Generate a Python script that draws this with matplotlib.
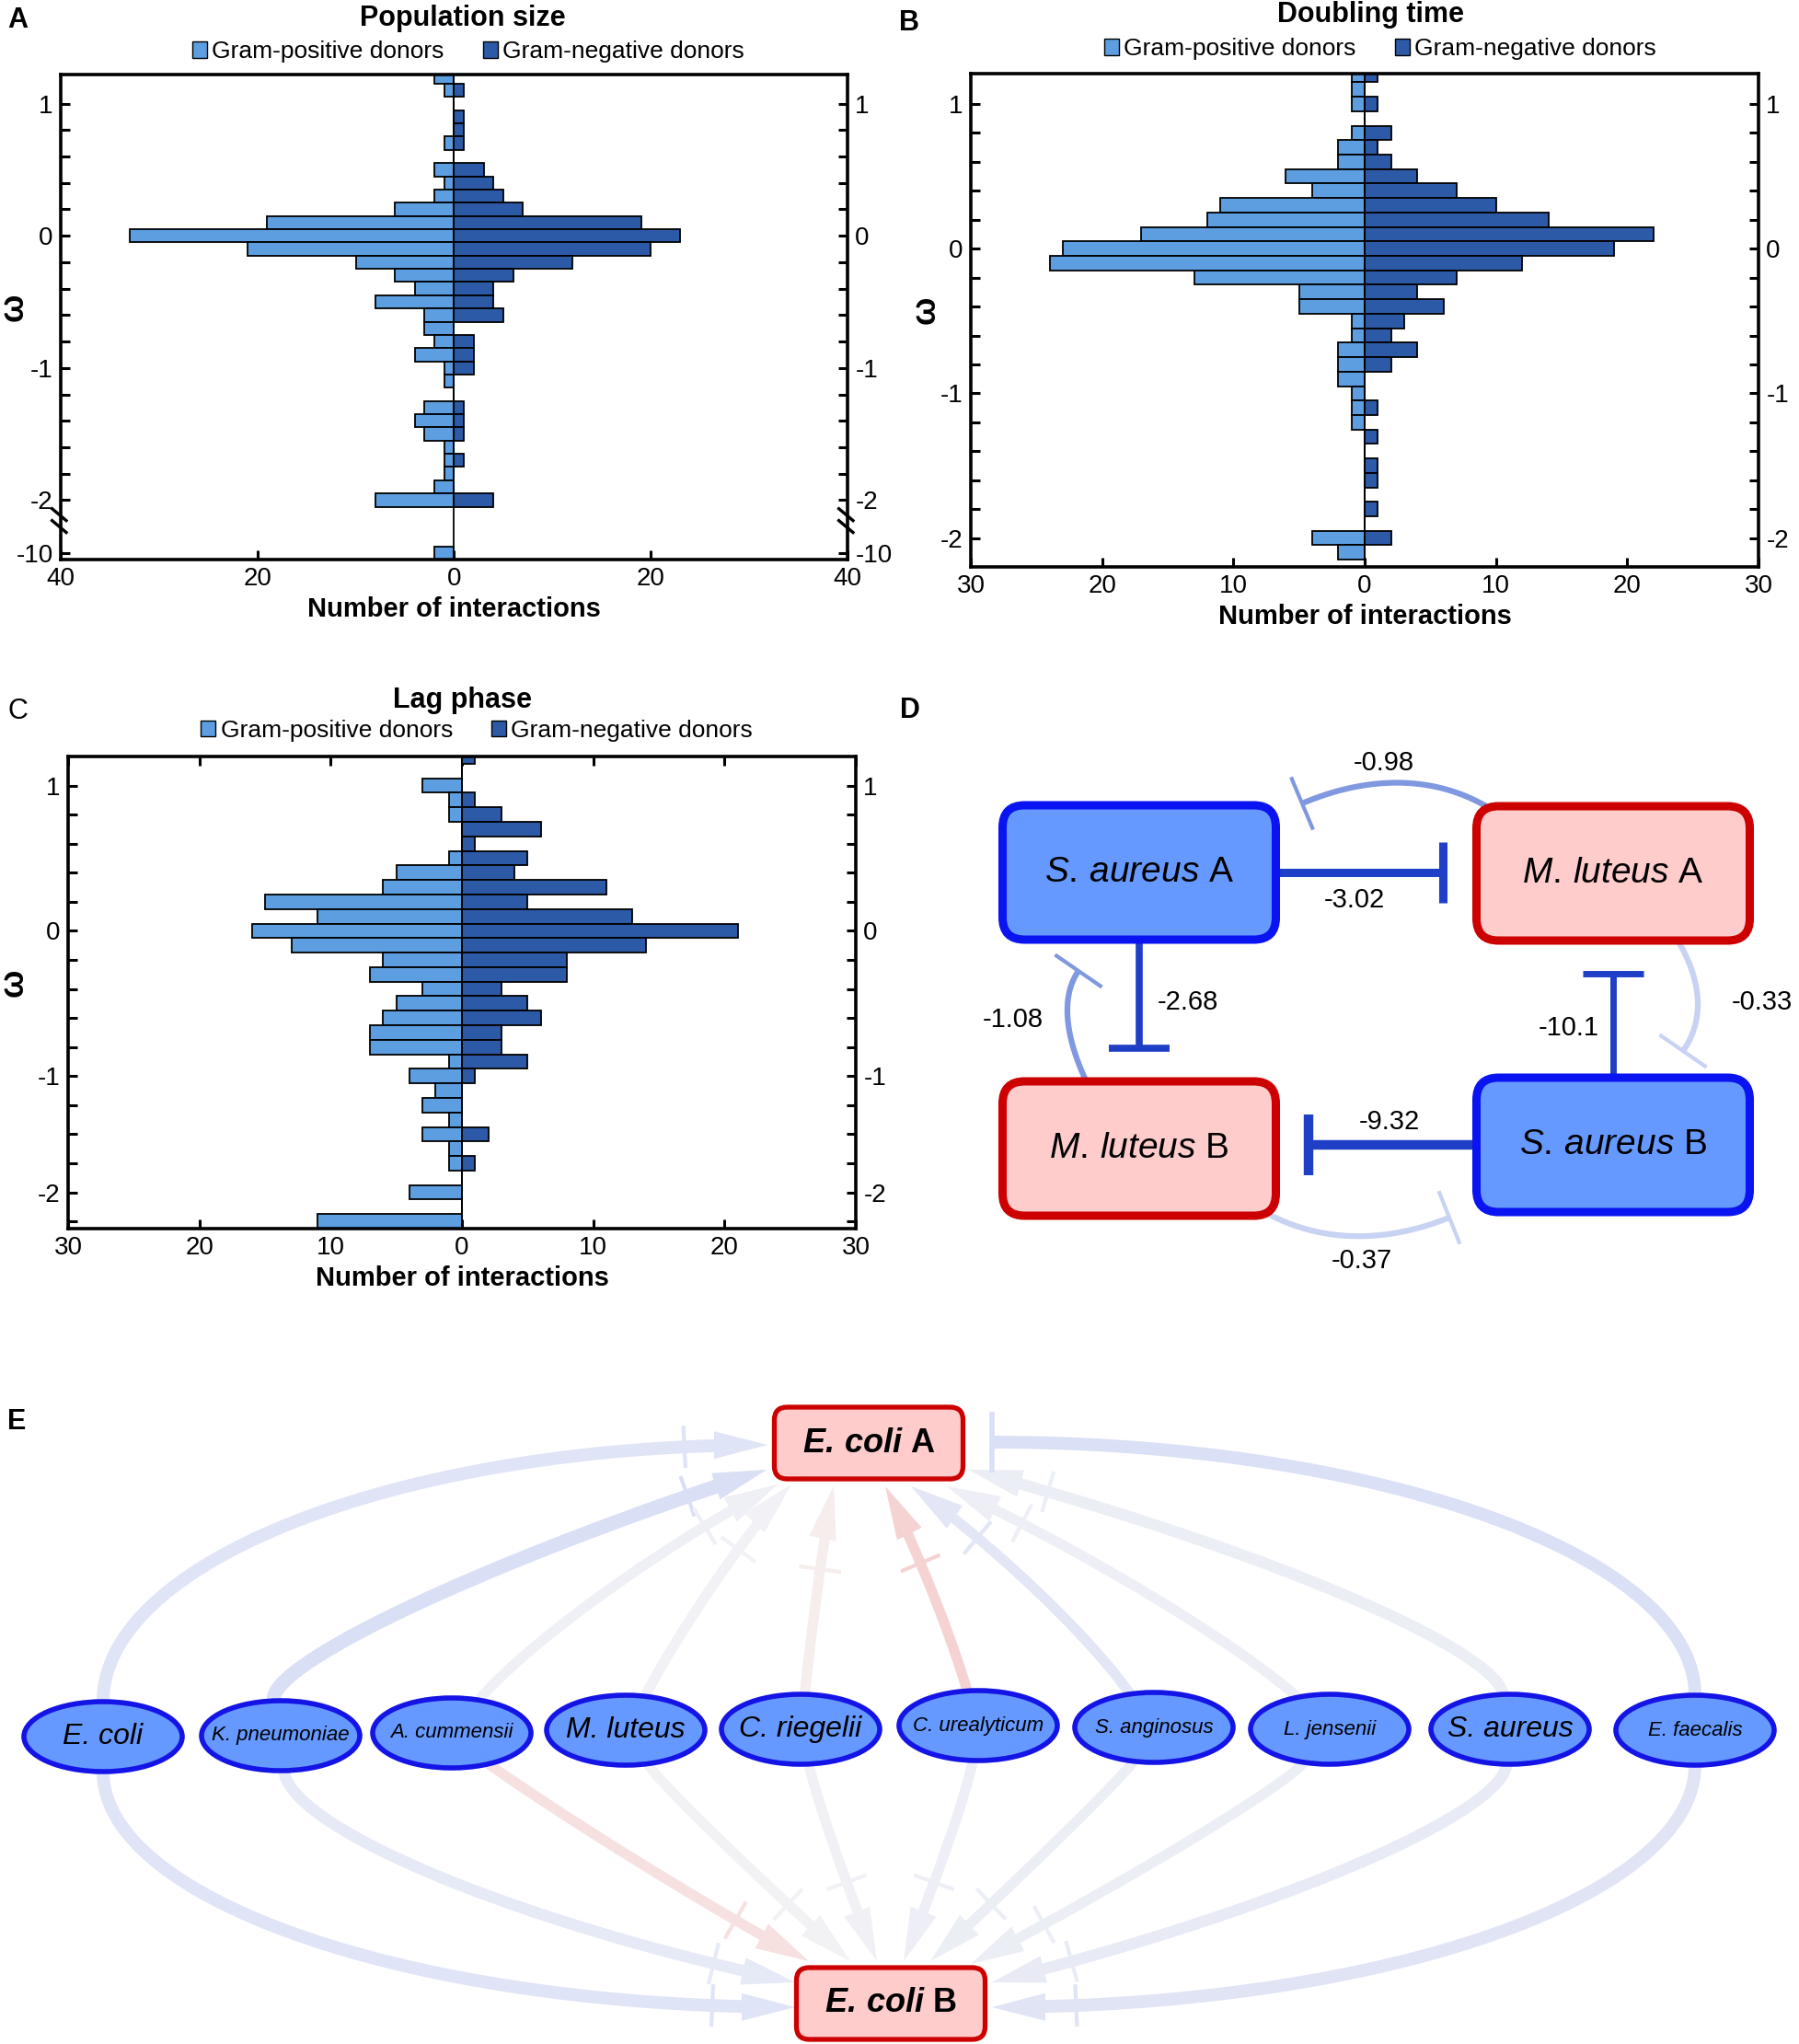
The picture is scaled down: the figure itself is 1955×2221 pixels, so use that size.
import numpy as np
import matplotlib
matplotlib.use("Agg")
import matplotlib.pyplot as plt
from matplotlib.patches import Patch, FancyBboxPatch, Ellipse, Polygon
from matplotlib.transforms import blended_transform_factory

plt.rcParams['font.family'] = ['Liberation Sans', 'DejaVu Sans']
plt.rcParams['mathtext.fontset'] = 'custom'
plt.rcParams['mathtext.rm'] = 'Liberation Sans'
plt.rcParams['mathtext.it'] = 'Liberation Sans:italic'
plt.rcParams['mathtext.bf'] = 'Liberation Sans:bold'
plt.rcParams['mathtext.bfit'] = 'Liberation Sans:italic:bold'

# ---------------- histogram data: omega bin centre, counts ----------------
pop_omega = [1.2, 1.1, 1.0, 0.9, 0.8, 0.7, 0.6, 0.5, 0.4, 0.3, 0.2, 0.1, 0.0,
             -0.1, -0.2, -0.3, -0.4, -0.5, -0.6, -0.7, -0.8, -0.9, -1.0,
             -1.1, -1.2, -1.3, -1.4, -1.5, -1.6, -1.7, -1.8, -1.9, -2.0, -10]
pop_pos = [2, 1, 0, 0, 0, 1, 0, 2, 1, 2, 6, 19, 33, 21, 10, 6, 4, 8, 3, 3, 2, 4,
           1, 1, 0, 3, 4, 3, 1, 1, 1, 2, 8, 2]
pop_neg = [0, 1, 0, 1, 1, 1, 0, 3, 4, 5, 7, 19, 23, 20, 12, 6, 4, 4, 5, 0, 2, 2,
           2, 0, 0, 1, 1, 1, 0, 1, 0, 0, 4, 0]

dbl_omega = [1.2, 1.1, 1.0, 0.9, 0.8, 0.7, 0.6, 0.5, 0.4, 0.3, 0.2, 0.1, 0.0,
             -0.1, -0.2, -0.3, -0.4, -0.5, -0.6, -0.7, -0.8, -0.9, -1.0,
             -1.1, -1.2, -1.3, -1.4, -1.5, -1.6, -1.7, -1.8, -1.9, -2.0, -2.1]
dbl_pos = [1, 1, 1, 0, 1, 2, 2, 6, 4, 11, 12, 17, 23, 24, 13, 5, 5, 1, 1, 2, 2,
           2, 1, 1, 1, 0, 0, 0, 0, 0, 0, 0, 4, 2]
dbl_neg = [1, 0, 1, 0, 2, 1, 2, 4, 7, 10, 14, 22, 19, 12, 7, 4, 6, 3, 2, 4, 2,
           0, 0, 1, 0, 1, 0, 1, 1, 0, 1, 0, 2, 0]

lag_omega = [1.2, 1.1, 1.0, 0.9, 0.8, 0.7, 0.6, 0.5, 0.4, 0.3, 0.2, 0.1, 0.0,
             -0.1, -0.2, -0.3, -0.4, -0.5, -0.6, -0.7, -0.8, -0.9, -1.0,
             -1.1, -1.2, -1.3, -1.4, -1.5, -1.6, -1.7, -1.8, -1.9, -2.0]
lag_pos = [0, 0, 3, 1, 1, 0, 0, 1, 5, 6, 15, 11, 16, 13, 6, 7, 3, 5, 6, 7, 7,
           1, 4, 2, 3, 1, 3, 1, 1, 0, 4, 0, 11]
lag_neg = [1, 0, 0, 1, 3, 6, 1, 5, 4, 11, 5, 13, 21, 14, 8, 8, 3, 5, 6, 3, 3,
           5, 1, 0, 0, 0, 2, 0, 1, 0, 0, 0, 0]

legend_labels = ['Gram-positive donors', 'Gram-negative donors']

# ---------------- panel D network ----------------
d_nodes = ['SaA', 'MlA', 'MlB', 'SaB']
d_text = {'SaA': r'$\mathit{S.\,aureus}$ A', 'MlA': r'$\mathit{M.\,luteus}$ A',
          'MlB': r'$\mathit{M.\,luteus}$ B', 'SaB': r'$\mathit{S.\,aureus}$ B'}
d_pos = {'SaA': (1238, 948), 'MlA': (1753, 949), 'MlB': (1238, 1248), 'SaB': (1753, 1244)}
d_strong = [('SaA', 'MlA', '-3.02'), ('SaA', 'MlB', '-2.68'),
            ('SaB', 'MlA', '-10.1'), ('SaB', 'MlB', '-9.32')]
d_weak = [('MlA', 'SaA', '-0.98'), ('MlB', 'SaA', '-1.08'),
          ('MlA', 'SaB', '-0.33'), ('MlB', 'SaB', '-0.37')]

# ---------------- panel E network ----------------
species = ['E. coli', 'K. pneumoniae', 'A. cummensii', 'M. luteus', 'C. riegelii',
           'C. urealyticum', 'S. anginosus', 'L. jensenii', 'S. aureus', 'E. faecalis']
sp_x = [112, 305, 491, 680, 870, 1063, 1254, 1445, 1641, 1842]
sp_y = [1887, 1886, 1883, 1880, 1879, 1875, 1877, 1879, 1879, 1880]
sp_fs = [23, 16, 16, 23, 23, 16, 16, 16, 23, 16]
to_A_type = ['arrow'] * 9 + ['tee']
to_A_color = ['#dfe4f6', '#d9dff5', '#efeff6', '#f1f1f6', '#f6eded',
              '#f5d3d3', '#e2e6f5', '#eeeff6', '#eceef6', '#dae0f5']
to_B_type = ['arrow'] * 10
to_B_color = ['#dfe4f6', '#e6e9f6', '#f6e0e0', '#f2f2f5', '#f1f1f5',
              '#eeeff6', '#eceef6', '#eceef6', '#e8ebf6', '#e0e4f5']

C_POS = '#5c9ee0'
C_NEG = '#2d5aa6'

W, H = 1955, 2221
fig = plt.figure(figsize=(W / 100, H / 100), dpi=100)

# overlay axes in pixel units for the two network panels
net = fig.add_axes([0, 0, 1, 1])
net.set_xlim(0, W)
net.set_ylim(H, 0)
net.axis('off')


def px_axes(x0, y0, x1, y1):
    return fig.add_axes([x0 / W, 1 - y1 / H, (x1 - x0) / W, (y1 - y0) / H])


def omega_axis(w):
    # the -10 bin sits below the axis break
    return -2.4 if w < -5 else w


def draw_hist(ax, omega, pos, neg, xmax, xstep, ylim, major, labels, title,
              title_xy, leg_xy, ylab_x, top=False, brk=False):
    ypos = [omega_axis(w) for w in omega]
    ax.barh(ypos, [-v for v in pos], height=0.1, color=C_POS, edgecolor='black',
            linewidth=1.3, zorder=2)
    ax.barh(ypos, neg, height=0.1, color=C_NEG, edgecolor='black',
            linewidth=1.3, zorder=2)
    ax.axvline(0, color='black', lw=1.3, zorder=3)
    ax.set_xlim(-xmax, xmax)
    ax.set_ylim(*ylim)
    xt = np.arange(-xmax, xmax + 1, xstep)
    ax.set_xticks(xt)
    ax.set_xticklabels([str(abs(int(v))) for v in xt])
    ax.set_yticks(major)
    ax.set_yticklabels(labels)
    ax.set_yticks(np.round(np.arange(-2.0, 1.01, 0.2), 1), minor=True)
    ax.tick_params(axis='both', which='both', direction='in', length=7,
                   width=2.2, labelsize=20, pad=6)
    ax.tick_params(axis='y', which='both', right=True, labelright=True)
    ax.tick_params(axis='x', top=top)
    for s in ax.spines.values():
        s.set_linewidth(2.6)
    ax.set_xlabel('Number of interactions', fontsize=21, fontweight='bold', labelpad=4)
    ax.set_ylabel('ω', fontsize=26, fontweight='bold')
    ax.yaxis.set_label_coords(ylab_x, 0.52)
    ax.text(title_xy[0], title_xy[1], title, transform=ax.transAxes, ha='center',
            va='center', fontsize=22, fontweight='bold')
    handles = [Patch(facecolor=C_POS, edgecolor='black', lw=1),
               Patch(facecolor=C_NEG, edgecolor='black', lw=1)]
    ax.legend(handles, legend_labels, loc='center', bbox_to_anchor=leg_xy, ncol=2,
              frameon=False, fontsize=19, handlelength=0.6, handleheight=0.65,
              handletextpad=0.2, columnspacing=1.6, borderaxespad=0, borderpad=0)
    if brk:
        tr = blended_transform_factory(ax.transAxes, ax.transData)
        for xf in (0, 1):
            for yc in (-2.11, -2.2):
                ax.plot([xf - 0.011, xf + 0.007], [yc + 0.045, yc - 0.045],
                        transform=tr, color='black', lw=2.4, clip_on=False, zorder=5)


axA = px_axes(66, 81, 921, 608)
draw_hist(axA, pop_omega, pop_pos, pop_neg, 40, 20, (-2.45, 1.22),
          [1, 0, -1, -2, -2.4], ['1', '0', '-1', '-2', '-10'], 'Population size',
          (0.511, 1.116), (0.518, 1.047), -0.039, brk=True)
axA.set_yticks(list(np.round(np.arange(-2.0, 1.01, 0.2), 1)) + [-2.4], minor=True)

axB = px_axes(1055, 80, 1911, 616)
draw_hist(axB, dbl_omega, dbl_pos, dbl_neg, 30, 10, (-2.2, 1.21),
          [1, 0, -1, -2], ['1', '0', '-1', '-2'], 'Doubling time',
          (0.508, 1.119), (0.52, 1.05), -0.037)

axC = px_axes(74, 822, 930, 1335)
draw_hist(axC, lag_omega, lag_pos, lag_neg, 30, 10, (-2.05, 1.2),
          [1, 0, -1, -1.8], ['1', '0', '-1', '-2'], 'Lag phase',
          (0.501, 1.119), (0.519, 1.055), -0.048, top=True)


# ---------------- network helpers (pixel coordinates) ----------------
def cubic(p0, a0, p1, a1, k=0.55):
    p0 = np.asarray(p0, float)
    p1 = np.asarray(p1, float)
    d0 = np.array([np.cos(np.radians(a0)), -np.sin(np.radians(a0))])
    d1 = np.array([np.cos(np.radians(a1)), -np.sin(np.radians(a1))])
    M = np.column_stack([d0, d1])
    chord = p1 - p0
    ok = abs(np.linalg.det(M)) > 1e-3
    if ok:
        s, u = np.linalg.solve(M, chord)
        ok = s > 0 and u > 0
    if not ok:
        s = u = np.linalg.norm(chord) / (3 * k)
    return np.array([p0, p0 + k * s * d0, p1 - k * u * d1, p1])


def bez(ctrl, n=300):
    t = np.linspace(0, 1, n)[:, None]
    return ((1 - t) ** 3) * ctrl[0] + 3 * ((1 - t) ** 2) * t * ctrl[1] + \
        3 * (1 - t) * t ** 2 * ctrl[2] + t ** 3 * ctrl[3]


def tee(ax, p, d, length, color, lw, z):
    n = np.array([-d[1], d[0]])
    a = p + n * length / 2
    b = p - n * length / 2
    ax.plot([a[0], b[0]], [a[1], b[1]], color=color, lw=lw,
            solid_capstyle='butt', zorder=z)


def draw_edge(ax, ctrl, color, lw, head, z=1, head_len=58, head_w=30,
              tee_len=46, tee_lw=None, ghost=0):
    pts = bez(ctrl)
    seg = np.hypot(*np.diff(pts, axis=0).T)
    cum = np.concatenate([[0], np.cumsum(seg)])
    total = cum[-1]
    tip = pts[-1]
    d_end = pts[-1] - pts[-4]
    d_end = d_end / np.linalg.norm(d_end)
    if tee_lw is None:
        tee_lw = lw
    if head == 'arrow':
        keep = cum <= total - head_len * 0.8
        ax.plot(pts[keep, 0], pts[keep, 1], color=color, lw=lw,
                solid_capstyle='butt', zorder=z)
        base = tip - d_end * head_len
        n = np.array([-d_end[1], d_end[0]])
        ax.add_patch(Polygon([tip, base + n * head_w / 2, base - n * head_w / 2],
                             closed=True, facecolor=color, edgecolor='none', zorder=z))
    else:
        ax.plot(pts[:, 0], pts[:, 1], color=color, lw=lw,
                solid_capstyle='butt', zorder=z)
        tee(ax, tip, d_end, tee_len, color, tee_lw, z)
    if ghost:
        i = np.searchsorted(cum, total - ghost)
        d = pts[i] - pts[i - 2]
        tee(ax, pts[i], d / np.linalg.norm(d), 46, color, 3, z)


# ---------------- panel D ----------------
DW, DH = 297, 146
for key in d_nodes:
    cx, cy = d_pos[key]
    blue = key.startswith('Sa')
    net.add_patch(FancyBboxPatch((cx - DW / 2, cy - DH / 2), DW, DH,
                                 boxstyle='round,pad=0,rounding_size=24',
                                 facecolor='#6699ff' if blue else '#ffcccc',
                                 edgecolor='#0a14f0' if blue else '#cc0000',
                                 lw=6.5, zorder=4))
    net.text(cx, cy, d_text[key], ha='center', va='center', fontsize=28, zorder=5)

strong_lw = [6.5, 5.5, 5, 7.5]
strong_lab = [(1472, 978), (1291, 1089), (1705, 1117), (1510, 1219)]
for (src, dst, val), lw, lab in zip(d_strong, strong_lw, strong_lab):
    p0 = np.array(d_pos[src], float)
    p1 = np.array(d_pos[dst], float)
    d = p1 - p0
    if abs(d[0]) > abs(d[1]):
        d = np.array([np.sign(d[0]), 0.0])
        half = DW / 2
    else:
        d = np.array([0.0, np.sign(d[1])])
        half = DH / 2
    a = p0 + d * half
    b = np.array([p1[0], p0[1]]) if d[1] == 0 else np.array([p0[0], p1[1]])
    b = b - d * (half + 36)
    ctrl = np.array([a, a + (b - a) / 3, a + 2 * (b - a) / 3, b])
    draw_edge(net, ctrl, '#1f3fc6', lw, 'tee', z=3, tee_len=66)
    net.text(lab[0], lab[1], val, ha='center', va='center', fontsize=21, zorder=5)

weak_geom = [((1615, 876), 150, (1415, 873), -157),
             ((1180, 1174), 115, (1172, 1055), 55),
             ((1825, 1025), -60, (1829, 1142), -125),
             ((1378, 1319), -28, (1575, 1323), 22)]
weak_color = ['#7f98e0', '#7f98e0', '#c8d2f2', '#c8d2f2']
weak_lab = [(1504, 829), (1101, 1108), (1915, 1089), (1480, 1370)]
for (src, dst, val), g, col, lab in zip(d_weak, weak_geom, weak_color, weak_lab):
    ctrl = cubic(g[0], g[1], g[2], g[3], k=0.65)
    draw_edge(net, ctrl, col, 4.5, 'tee', z=3, tee_len=62, tee_lw=3)
    net.text(lab[0], lab[1], val, ha='center', va='center', fontsize=21, zorder=5)

# ---------------- panel E ----------------
A_c = (944, 1568)
B_c = (968, 2177)
EW, EH = 205, 78
top_ang = [(90, 0), (100, 18), (50, 28), (62, 46), (84, 78), (106, 117),
           (125, 145), (138, 155), (100, 165), (90, 180)]
top_end = [(-110, 2), (-111, 29), (-99, 45), (-84, 45), (-38, 47), (18, 47),
           (46, 47), (85, 47), (109, 29), (134, -1)]
bot_ang = [(-90, 0), (-85, -12), (-35, -28), (-58, -42), (-78, -68), (-98, -112),
           (-120, -137), (-128, -152), (-95, -166), (-90, 180)]
bot_end = [(-104, 4), (-104, -23), (-89, -46), (-44, -46), (-15, -46), (14, -46),
           (43, -46), (87, -43), (110, -23), (110, 4)]
top_lw = [10, 11, 8, 8, 8, 8, 8, 8, 9, 10]
bot_lw = [10, 9, 8, 8, 8, 8, 8, 8, 9, 10]
SW, SH = 172, 76

order = sorted(range(len(species)), key=lambda i: to_A_color[i] == '#f5d3d3')
for i in order:
    a0, a1 = top_ang[i]
    pol = np.radians(90 + (a0 - 90) * 0.5)
    p0 = (sp_x[i] + SW / 2 * np.cos(pol), sp_y[i] - SH / 2 * np.sin(pol))
    p1 = (A_c[0] + top_end[i][0], A_c[1] + top_end[i][1])
    ctrl = cubic(p0, a0, p1, a1)
    draw_edge(net, ctrl, to_A_color[i], top_lw[i], to_A_type[i], z=1,
              tee_len=66, tee_lw=4, ghost=92 if to_A_type[i] == 'arrow' else 0)
for i in range(len(species)):
    a0, a1 = bot_ang[i]
    pol = np.radians(-90 + (a0 + 90) * 0.5)
    p0 = (sp_x[i] + SW / 2 * np.cos(pol), sp_y[i] - SH / 2 * np.sin(pol))
    p1 = (B_c[0] + bot_end[i][0], B_c[1] + bot_end[i][1])
    ctrl = cubic(p0, a0, p1, a1)
    draw_edge(net, ctrl, to_B_color[i], bot_lw[i], to_B_type[i], z=1,
              ghost=92)

for (cx, cy), lab in zip([A_c, B_c], ['A', 'B']):
    net.add_patch(FancyBboxPatch((cx - EW / 2, cy - EH / 2), EW, EH,
                                 boxstyle='round,pad=0,rounding_size=14',
                                 facecolor='#ffcccc', edgecolor='#cc0000',
                                 lw=3.8, zorder=4))
    net.text(cx, cy, r'$\mathbfit{E.\,coli}$ ' + lab, ha='center', va='center',
             fontsize=26, fontweight='bold', zorder=5)

for name, x, y, fs in zip(species, sp_x, sp_y, sp_fs):
    net.add_patch(Ellipse((x, y), SW, SH, facecolor='#6699ff', edgecolor='#1414e6',
                          lw=4, zorder=4))
    net.text(x, y, name, ha='center', va='center', fontsize=fs, style='italic', zorder=5)

# panel letters
for lab, x, y, wt in [('A', 8, 22, 'bold'), ('B', 977, 25, 'bold'), ('C', 9, 773, 'normal'),
                      ('D', 978, 772, 'bold'), ('E', 8, 1545, 'bold')]:
    fig.text(x / W, 1 - y / H, lab, fontsize=22, fontweight=wt, va='center', ha='left')

fig.savefig('out.png', dpi=100)
